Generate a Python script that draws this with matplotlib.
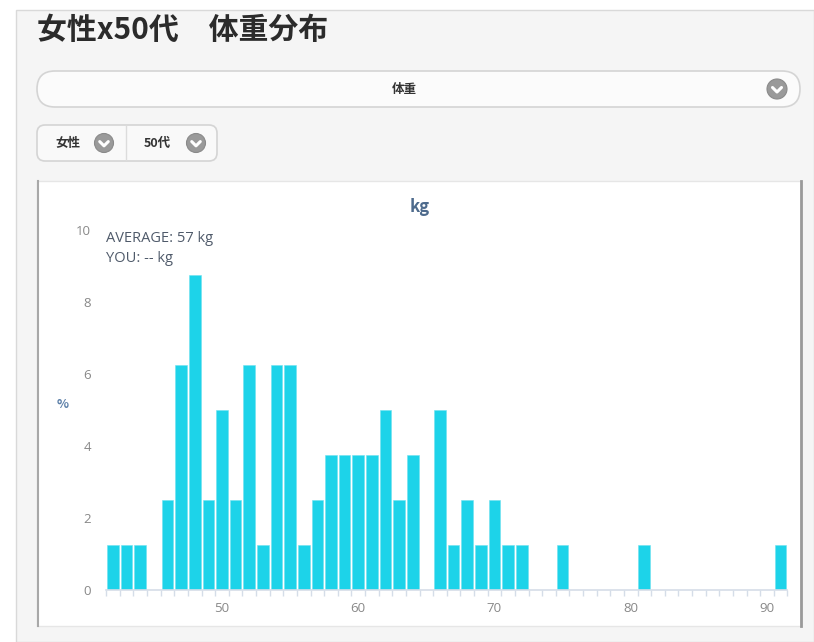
import numpy as np
import matplotlib.pyplot as plt
from matplotlib.patches import Rectangle, FancyBboxPatch, Circle

plt.rcParams['font.family'] = ['Noto Sans CJK JP', 'DejaVu Sans']

# weight (kg) and share of people (%)
weights = [42, 43, 44, 46, 47, 48, 49, 50, 51, 52, 53, 54, 55, 56, 57, 58, 59,
           60, 61, 62, 63, 64, 66, 67, 68, 69, 70, 71, 72, 75, 81, 91]
percents = [1.25, 1.25, 1.25, 2.5, 6.25, 8.75, 2.5, 5.0, 2.5, 6.25, 1.25, 6.25,
            6.25, 1.25, 2.5, 3.75, 3.75, 3.75, 3.75, 5.0, 2.5, 3.75, 5.0, 1.25,
            2.5, 1.25, 2.5, 1.25, 1.25, 1.25, 1.25, 1.25]
xticks = [50, 60, 70, 80, 90]
yticks = [0, 2, 4, 6, 8, 10]

title = '女性x50代\u3000体重分布'
selector = '体重'
sex_btn = '女性'
age_btn = '50代'
average_text = 'AVERAGE: 57 kg'
you_text = 'YOU: -- kg'

W, H = 814, 642
fig = plt.figure(figsize=(W / 100, H / 100), dpi=100)
fig.patch.set_facecolor('white')

# background layer in pixel coordinates
bg = fig.add_axes([0, 0, 1, 1])
bg.set_xlim(0, W)
bg.set_ylim(H, 0)
bg.axis('off')

bg.add_patch(Rectangle((16, 10), W - 16, H - 10, facecolor='#f5f5f5',
                       edgecolor='#d9d9d9', linewidth=1))
bg.text(37, 30, title, fontsize=21.5, fontweight='bold', color='#2b2b2b',
        va='center', ha='left')


def chevron(cx, cy, r):
    bg.add_patch(Circle((cx, cy), r, facecolor='#9a9a9a', edgecolor='#8a8a8a', lw=0.8))
    bg.plot([cx - r * 0.45, cx, cx + r * 0.45], [cy - r * 0.15, cy + r * 0.3, cy - r * 0.15],
            color='white', lw=2.2, solid_capstyle='round')


# big selector pill
bg.add_patch(FancyBboxPatch((37, 71), 763, 36,
                            boxstyle='round,pad=0,rounding_size=18',
                            facecolor='#fbfbfb', edgecolor='#d4d4d4', lw=1.2))
bg.text(404, 89, selector, fontsize=9, fontweight='bold', color='#333333',
        ha='center', va='center')
chevron(777, 89, 10)

# small buttons
bg.add_patch(FancyBboxPatch((37, 125), 180, 36,
                            boxstyle='round,pad=0,rounding_size=8',
                            facecolor='#f9f9f9', edgecolor='#d4d4d4', lw=1.2))
bg.plot([126, 126], [126, 160], color='#dcdcdc', lw=1)
bg.text(68, 143, sex_btn, fontsize=9, fontweight='bold', color='#333333',
        ha='center', va='center')
chevron(104, 143, 9.5)
bg.text(157, 143, age_btn, fontsize=9, fontweight='bold', color='#333333',
        ha='center', va='center')
chevron(196, 143, 9.5)

# chart panel
bg.add_patch(Rectangle((37, 181), 764, 445, facecolor='white',
                       edgecolor='#e6e6e6', lw=1))
bg.plot([37.5, 37.5], [181, 626], color='#a8a8a8', lw=1.5)
bg.plot([800.5, 800.5], [181, 626], color='#9a9a9a', lw=2)

bg.text(420, 207, 'kg', fontsize=12, fontweight='bold', color='#4d6a8c',
        ha='center', va='center')
bg.text(63, 405, '%', fontsize=9, fontweight='bold', color='#5b7fa8',
        ha='center', va='center')
bg.text(106, 239, average_text, fontsize=10.5, color='#4f5a6a', ha='left', va='center',
        family=['Open Sans', 'DejaVu Sans'])
bg.text(106, 258, you_text, fontsize=10.5, color='#4f5a6a', ha='left', va='center',
        family=['Open Sans', 'DejaVu Sans'])

# histogram axes
left, right = 106.2, 787.4
top, bottom = 230, 590
ax = fig.add_axes([left / W, 1 - bottom / H, (right - left) / W, (bottom - top) / H])
ax.patch.set_alpha(0)
ax.bar(weights, percents, width=0.86, color='#1dd3e9', edgecolor='#6fe2f0', linewidth=0.4)
ax.set_xlim(41.5, 91.5)
ax.set_ylim(0, 10)
for s in ['top', 'right', 'left']:
    ax.spines[s].set_visible(False)
ax.spines['bottom'].set_color('#d5dde8')
ax.spines['bottom'].set_linewidth(1.2)

ax.set_xticks(xticks)
ax.set_xticks(np.arange(41.5, 92, 1.0), minor=True)
ax.set_yticks(yticks)
ax.tick_params(axis='x', which='major', length=0, pad=9, labelsize=9.5,
               labelcolor='#888888')
ax.tick_params(axis='x', which='minor', length=4, width=1, color='#d5dde8')
ax.tick_params(axis='y', length=0, pad=11, labelsize=9.5, labelcolor='#888888')
for lab in ax.get_xticklabels() + ax.get_yticklabels():
    lab.set_family(['Open Sans', 'DejaVu Sans'])

fig.savefig('out.png', dpi=100)
